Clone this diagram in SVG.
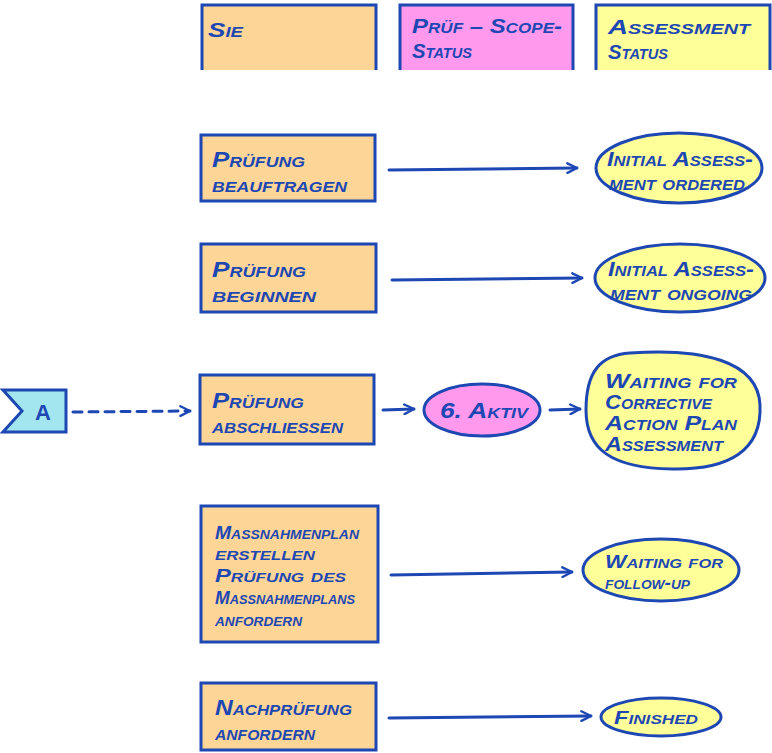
<svg xmlns="http://www.w3.org/2000/svg" width="772" height="753" viewBox="0 0 772 753">
<style>
.o{fill:#fcd597;stroke:#1d47b3;stroke-width:3}
.y{fill:#ffff99;stroke:#1d47b3;stroke-width:3}
.p{fill:#ff99ee;stroke:#1d47b3;stroke-width:3}
.c{fill:#a3e6f0;stroke:#1d47b3;stroke-width:3}
.hd{stroke:#1d47b3;stroke-width:3;fill:none}
text{font-family:"Liberation Sans",Arial,sans-serif;font-weight:bold;font-style:italic;font-variant:small-caps;fill:#1d47b3}
.t{font-size:22px}
.s{font-size:20px}
.m{font-size:18px}
.h{font-size:21px}
.ln{stroke:#1d47b3;stroke-width:3;fill:none;stroke-linecap:round}
</style>
<defs>
<marker id="ar" viewBox="0 0 10 10" refX="9" refY="5" markerWidth="4" markerHeight="4" orient="auto" markerUnits="strokeWidth">
<path d="M1,1 L9,5 L1,9" fill="none" stroke="#1d47b3" stroke-width="2" stroke-linecap="round" stroke-linejoin="round"/>
</marker>
</defs>
<g id="header-sie">
<rect x="201" y="5" width="175" height="65" fill="#fcd597"/>
<path class="hd" d="M202,70 V5 H376 V70"/>
<text class="h" x="208" y="37" textLength="35" lengthAdjust="spacingAndGlyphs">Sie</text>
</g>
<g id="header-pruef">
<rect x="399" y="5" width="174" height="65" fill="#ff99ee"/>
<path class="hd" d="M400,70 V5 H573 V70"/>
<text class="h" x="412" y="33" textLength="150" lengthAdjust="spacingAndGlyphs">Prüf – Scope-</text>
<text class="h" x="412" y="58" textLength="60" lengthAdjust="spacingAndGlyphs">Status</text>
</g>
<g id="header-assessment">
<rect x="595" y="5" width="175" height="65" fill="#ffff99"/>
<path class="hd" d="M596,70 V5 H770 V70"/>
<text class="h" x="608" y="34" textLength="142" lengthAdjust="spacingAndGlyphs">Assessment</text>
<text class="h" x="608" y="59" textLength="60" lengthAdjust="spacingAndGlyphs">Status</text>
</g>
<g id="n1">
<rect class="o" x="201" y="135" width="174" height="66"/>
<text class="t" x="212" y="167" textLength="93" lengthAdjust="spacingAndGlyphs">Prüfung</text>
<text class="t" x="212" y="192" textLength="135" lengthAdjust="spacingAndGlyphs">beauftragen</text>
</g>
<g id="s1">
<ellipse class="y" cx="679" cy="168" rx="83" ry="35"/>
<text class="s" x="607" y="166" textLength="146" lengthAdjust="spacingAndGlyphs">Initial Assess-</text>
<text class="s" x="609" y="190" textLength="136" lengthAdjust="spacingAndGlyphs">ment ordered</text>
</g>
<g id="n2">
<rect class="o" x="201" y="244" width="175" height="68"/>
<text class="t" x="212" y="277" textLength="94" lengthAdjust="spacingAndGlyphs">Prüfung</text>
<text class="t" x="212" y="302" textLength="104" lengthAdjust="spacingAndGlyphs">beginnen</text>
</g>
<g id="s2">
<ellipse class="y" cx="680" cy="278" rx="85" ry="34"/>
<text class="s" x="608" y="276" textLength="146" lengthAdjust="spacingAndGlyphs">Initial Assess-</text>
<text class="s" x="610" y="300" textLength="142" lengthAdjust="spacingAndGlyphs">ment ongoing</text>
</g>
<g id="a">
<polygon class="c" points="3,390 66,390 66,432 3,432 22,411"/>
<text class="t" x="35" y="420" style="font-style:normal">A</text>
</g>
<g id="n3">
<rect class="o" x="200" y="375" width="174" height="69"/>
<text class="t" x="212" y="408" textLength="92" lengthAdjust="spacingAndGlyphs">Prüfung</text>
<text class="t" x="212" y="433" textLength="131" lengthAdjust="spacingAndGlyphs">abschließen</text>
</g>
<g id="aktiv">
<ellipse class="p" cx="482" cy="410" rx="58" ry="26"/>
<text class="t" x="440" y="418" textLength="88" lengthAdjust="spacingAndGlyphs">6. Aktiv</text>
</g>
<g id="s3">
<path class="y" d="M630,353 C700,348 758,360 760,405 C762,450 730,470 672,469 C612,468 586,450 586,410 C586,372 600,355 630,353 Z"/>
<text class="s" x="605" y="388" textLength="132" lengthAdjust="spacingAndGlyphs">Waiting for</text>
<text class="s" x="605" y="409" textLength="107" lengthAdjust="spacingAndGlyphs">Corrective</text>
<text class="s" x="605" y="430" textLength="132" lengthAdjust="spacingAndGlyphs">Action Plan</text>
<text class="s" x="605" y="451" textLength="118" lengthAdjust="spacingAndGlyphs">Assessment</text>
</g>
<g id="n4">
<rect class="o" x="201" y="506" width="177" height="136"/>
<text class="m" x="215" y="539" textLength="144" lengthAdjust="spacingAndGlyphs">Maßnahmenplan</text>
<text class="m" x="215" y="560" textLength="100" lengthAdjust="spacingAndGlyphs">erstellen</text>
<text class="m" x="215" y="582" textLength="131" lengthAdjust="spacingAndGlyphs">Prüfung des</text>
<text class="m" x="215" y="604" textLength="140" lengthAdjust="spacingAndGlyphs">Maßnahmenplans</text>
<text class="m" x="215" y="626" textLength="87" lengthAdjust="spacingAndGlyphs">anfordern</text>
</g>
<g id="s4">
<ellipse class="y" cx="661" cy="570" rx="78" ry="31"/>
<text class="m" x="605" y="568" textLength="118" lengthAdjust="spacingAndGlyphs">Waiting for</text>
<text class="m" x="605" y="589" textLength="85" lengthAdjust="spacingAndGlyphs">follow-up</text>
</g>
<g id="n5">
<rect class="o" x="201" y="683" width="175" height="67"/>
<text class="t" x="215" y="715" textLength="137" lengthAdjust="spacingAndGlyphs">Nachprüfung</text>
<text class="t" x="215" y="740" textLength="100" lengthAdjust="spacingAndGlyphs">anfordern</text>
</g>
<g id="s5">
<ellipse class="y" cx="661" cy="717" rx="60" ry="19"/>
<text class="m" x="614" y="724" textLength="84" lengthAdjust="spacingAndGlyphs">Finished</text>
</g>
<g id="connectors">
<path class="ln" d="M389,170 L577,168" marker-end="url(#ar)"/>
<path class="ln" d="M392,280 L582,278" marker-end="url(#ar)"/>
<path class="ln" d="M73,412 L190,411" stroke-dasharray="9,7" marker-end="url(#ar)"/>
<path class="ln" d="M383,410 L414,409" marker-end="url(#ar)"/>
<path class="ln" d="M550,410 L580,409" marker-end="url(#ar)"/>
<path class="ln" d="M391,575 L572,572" marker-end="url(#ar)"/>
<path class="ln" d="M389,718 L591,716" marker-end="url(#ar)"/>
</g>
</svg>
